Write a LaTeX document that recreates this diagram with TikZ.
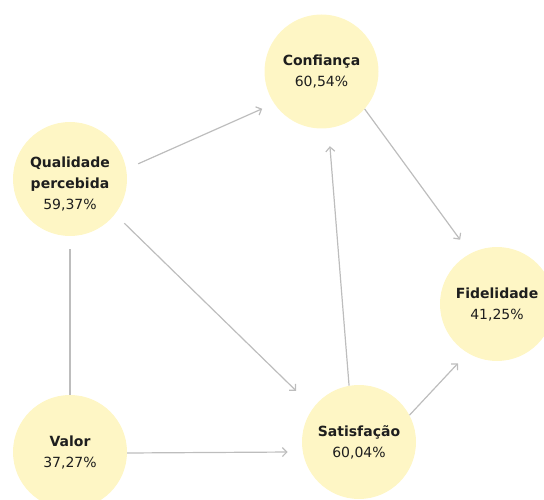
\documentclass[tikz,border=0pt]{standalone}
\usepackage{fontspec}
\setmainfont{DejaVu Sans}
\usetikzlibrary{arrows.meta}
\definecolor{bubble}{HTML}{FEF6C5}
\definecolor{conn}{HTML}{BDBDBD}
\definecolor{txt}{HTML}{1E1E1E}
\begin{document}
\begin{tikzpicture}[x=1pt,y=-1pt,
  bubblenode/.style={circle,fill=bubble,minimum size=114pt,inner sep=0pt,
    text=txt,align=center,font=\fontsize{14}{21}\selectfont},
  bubbletext/.style={inner sep=0pt,text=txt,align=center,font=\fontsize{14}{21}\selectfont},
  link/.style={draw=conn,line width=1.2pt,-{Straight Barb[length=4.5pt,width=9pt]}},
  plainlink/.style={draw=conn,line width=1.2pt}]
\useasboundingbox (0,0) rectangle (544,500);
\node[bubblenode] (q) at (70,179) {};
\node[bubbletext] (qt) at ([yshift=-5pt]q.center) {\textbf{Qualidade}\\\textbf{percebida}\\59,37\%};
\node[bubblenode] (c) at (321.5,71.5) {\textbf{Confiança}\\60,54\%};
\node[bubblenode] (f) at (497,304) {\textbf{Fidelidade}\\41,25\%};
\node[bubblenode] (v) at (70,452) {\textbf{Valor}\\37,27\%};
\node[bubblenode] (s) at (359,442) {\textbf{Satisfação}\\60,04\%};
\draw[link,shorten <=13pt,shorten >=13pt] (q.10) -- (c.214);
\draw[link,shorten <=13pt,shorten >=24pt] (q.-38) -- (s.143);
\draw[plainlink,shorten <=13pt] (q.-90) -- (v.90);
\draw[link,shorten >=15pt] (v.-1) -- (s.190);
\draw[link,shorten >=18pt] (s.100) -- (c.-83.5);
\draw[link,shorten >=17pt] (c.-41) -- (f.118);
\draw[link,shorten >=14pt] (s.28) -- (f.239);
\end{tikzpicture}
\end{document}
